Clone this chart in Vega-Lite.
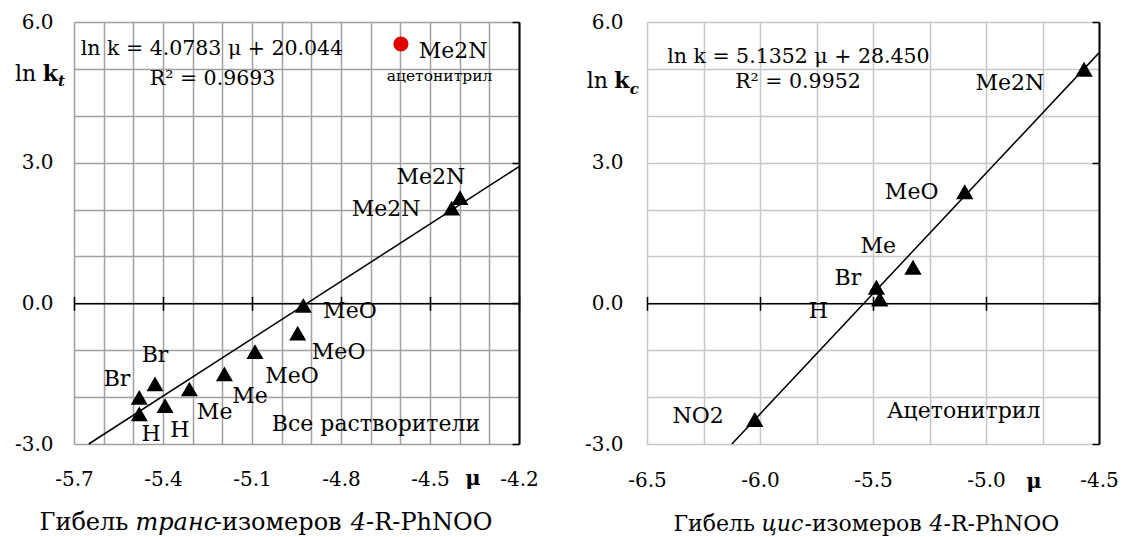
{
  "$schema": "https://vega.github.io/schema/vega-lite/v6.json",
  "background": "white",
  "padding": {"left": 14, "top": 12, "right": 0, "bottom": 0},
  "autosize": {"type": "pad"},
  "bounds": "flush",
  "spacing": 128,
  "config": {"view": {"stroke": null}, "axis": {"labelFont": "DejaVu Serif", "labelColor": "black"}, "text": {"font": "DejaVu Serif"}},
  "datasets": {
    "left_points": [
      {"R": "Me2N", "mu": -4.399, "lnk": 2.255},
      {"R": "Me2N", "mu": -4.427, "lnk": 2.03},
      {"R": "MeO", "mu": -4.927, "lnk": -0.046},
      {"R": "MeO", "mu": -4.946, "lnk": -0.633},
      {"R": "MeO", "mu": -5.09, "lnk": -1.031},
      {"R": "Me", "mu": -5.193, "lnk": -1.507},
      {"R": "Me", "mu": -5.311, "lnk": -1.827},
      {"R": "Br", "mu": -5.427, "lnk": -1.72},
      {"R": "Br", "mu": -5.48, "lnk": -2.004},
      {"R": "H", "mu": -5.393, "lnk": -2.183},
      {"R": "H", "mu": -5.48, "lnk": -2.36}
    ],
    "left_acn": [{"R": "Me2N", "mu": -4.598, "lnk": 5.531}],
    "left_fit": [{"mu": -5.6504, "lnk": -3.0}, {"mu": -4.2, "lnk": 2.9149}],
    "left_labels": [
      {"text": "Me2N", "mu": -4.497, "lnk": 2.694},
      {"text": "Me2N", "mu": -4.648, "lnk": 2.02},
      {"text": "MeO", "mu": -4.77, "lnk": -0.155},
      {"text": "MeO", "mu": -4.808, "lnk": -1.031},
      {"text": "MeO", "mu": -4.965, "lnk": -1.543},
      {"text": "Me", "mu": -5.107, "lnk": -1.976},
      {"text": "Me", "mu": -5.226, "lnk": -2.311},
      {"text": "Br", "mu": -5.427, "lnk": -1.102},
      {"text": "Br", "mu": -5.555, "lnk": -1.614},
      {"text": "H", "mu": -5.44, "lnk": -2.786},
      {"text": "H", "mu": -5.343, "lnk": -2.701},
      {"text": "Me2N", "mu": -4.422, "lnk": 5.382},
      {"text": "Все растворители", "mu": -4.682, "lnk": -2.567}
    ],
    "left_eq": [
      {"text": "ln k = 4.0783 μ + 20.044", "mu": -5.235, "lnk": 5.424},
      {"text": "R² = 0.9693", "mu": -5.233, "lnk": 4.784}
    ],
    "left_small": [{"text": "ацетонитрил", "mu": -4.468, "lnk": 4.848}],
    "left_ttl_ln": [{"text": "ln", "mu": -5.899, "lnk": 4.891}],
    "left_ttl_k": [{"text": "k", "mu": -5.805, "lnk": 4.891}],
    "left_mu": [{"text": "μ", "mu": -4.355, "lnk": -3.746}],
    "left_ttl_sub": [{"text": "t", "mu": -5.754, "lnk": 4.742}],
    "left_cap": [
      {"text": "Гибель", "style": "normal", "mu": -5.8163, "lnk": -4.68},
      {"text": "транс", "style": "italic", "mu": -5.4927, "lnk": -4.68},
      {"text": "-изомеров", "style": "normal", "mu": -5.2288, "lnk": -4.68},
      {"text": "4", "style": "italic", "mu": -4.767, "lnk": -4.68},
      {"text": "-R-PhNOO", "style": "normal", "mu": -4.7154, "lnk": -4.68}
    ],
    "right_points": [
      {"R": "Me2N", "mu": -4.566, "lnk": 4.993},
      {"R": "MeO", "mu": -5.094, "lnk": 2.381},
      {"R": "Me", "mu": -5.323, "lnk": 0.769},
      {"R": "Br", "mu": -5.485, "lnk": 0.342},
      {"R": "H", "mu": -5.47, "lnk": 0.093},
      {"R": "NO2", "mu": -6.023, "lnk": -2.477}
    ],
    "right_fit": [{"mu": -6.1244, "lnk": -3.0}, {"mu": -4.5, "lnk": 5.3416}],
    "right_labels": [
      {"text": "Me2N", "mu": -4.894, "lnk": 4.699},
      {"text": "MeO", "mu": -5.329, "lnk": 2.385},
      {"text": "Me", "mu": -5.477, "lnk": 1.232},
      {"text": "Br", "mu": -5.611, "lnk": 0.54},
      {"text": "H", "mu": -5.742, "lnk": -0.155},
      {"text": "NO2", "mu": -6.274, "lnk": -2.403},
      {"text": "Ацетонитрил", "mu": -5.099, "lnk": -2.288}
    ],
    "right_eq": [
      {"text": "ln k = 5.1352 μ + 28.450", "mu": -5.83, "lnk": 5.254},
      {"text": "R² = 0.9952", "mu": -5.832, "lnk": 4.72}
    ],
    "right_ttl_ln": [{"text": "ln", "mu": -6.767, "lnk": 4.742}],
    "right_ttl_k": [{"text": "k", "mu": -6.645, "lnk": 4.742}],
    "right_mu": [{"text": "μ", "mu": -4.788, "lnk": -3.81}],
    "right_ttl_sub": [{"text": "c", "mu": -6.576, "lnk": 4.578}],
    "right_cap": [
      {"text": "Гибель", "style": "normal", "mu": -6.3827, "lnk": -4.71},
      {"text": "цис", "style": "italic", "mu": -5.9934, "lnk": -4.71},
      {"text": "-изомеров", "style": "normal", "mu": -5.8031, "lnk": -4.71},
      {"text": "4", "style": "italic", "mu": -5.25, "lnk": -4.71},
      {"text": "-R-PhNOO", "style": "normal", "mu": -5.188, "lnk": -4.71}
    ]
  },
  "hconcat": [
    {
      "width": 445,
      "height": 422,
      "resolve": {"axis": {"x": "independent", "y": "independent"}},
      "layer": [
        {
          "data": {"name": "left_fit"},
          "mark": {"type": "line", "color": "black", "strokeWidth": 1.5},
          "encoding": {
            "x": {"field": "mu", "type": "quantitative", "scale": {"domain": [-5.7, -4.2], "nice": false, "zero": false},
              "axis": {"orient": "bottom", "values": [-5.7, -5.6, -5.5, -5.4, -5.3, -5.2, -5.1, -5.0, -4.9, -4.8, -4.7, -4.6, -4.5, -4.4, -4.3, -4.2], "grid": true, "gridColor": "#a0a0a0", "gridWidth": 1.5, "labels": false, "ticks": false, "domain": false, "title": null}},
            "y": {"field": "lnk", "type": "quantitative", "scale": {"domain": [-3, 6], "nice": false, "zero": false},
              "axis": {"orient": "left", "values": [-3, -2, -1, 0, 1, 2, 3, 4, 5, 6], "grid": true, "gridColor": "#a0a0a0", "gridWidth": 1.5, "labels": false, "ticks": false, "domain": false, "title": null}}
          }
        },
        {
          "data": {"name": "left_points"},
          "mark": {"type": "point", "shape": "triangle-up", "filled": true, "color": "black", "size": 290, "opacity": 1},
          "encoding": {
            "x": {"field": "mu", "type": "quantitative", "scale": {"domain": [-5.7, -4.2], "nice": false, "zero": false},
              "axis": {"orient": "bottom", "values": [-5.7, -5.4, -5.1, -4.8, -4.5, -4.2], "grid": false, "ticks": false, "domain": false, "labelPadding": 25, "labelFontSize": 20, "labelFlush": false, "labelOverlap": false, "labelExpr": "replace(format(datum.value, '.1f'), '−', '-')", "title": null}},
            "y": {"field": "lnk", "type": "quantitative", "scale": {"domain": [-3, 6], "nice": false, "zero": false},
              "axis": {"orient": "left", "values": [-3, 0, 3, 6], "grid": false, "ticks": false, "domain": false, "labelPadding": 21, "labelFontSize": 20, "labelFlush": false, "labelOverlap": false, "labelExpr": "replace(format(datum.value, '.1f'), '−', '-')", "title": null}}
          }
        },
        {
          "data": {"name": "left_acn"},
          "mark": {"type": "point", "shape": "circle", "filled": true, "color": "#e00000", "size": 230, "opacity": 1},
          "encoding": {
            "x": {"field": "mu", "type": "quantitative", "scale": {"domain": [-5.7, -4.2], "nice": false, "zero": false},
              "axis": {"orient": "bottom", "offset": -140.67, "values": [-5.7, -5.4, -5.1, -4.8, -4.5, -4.2], "grid": false, "labels": false, "ticks": true, "tickSize": 7, "tickColor": "black", "tickWidth": 1.5, "domain": true, "domainColor": "black", "domainWidth": 1.5, "zindex": 1, "title": null}},
            "y": {"field": "lnk", "type": "quantitative", "scale": {"domain": [-3, 6], "nice": false, "zero": false},
              "axis": {"orient": "left", "offset": -445, "values": [-3, 0, 3, 6], "grid": false, "labels": false, "ticks": true, "tickSize": 7, "tickColor": "black", "tickWidth": 1.5, "domain": true, "domainColor": "black", "domainWidth": 2, "zindex": 1, "title": null}}
          }
        },
        {
          "data": {"name": "left_labels"},
          "mark": {"type": "text", "fontSize": 22, "color": "black"},
          "encoding": {
            "x": {"field": "mu", "type": "quantitative", "scale": {"domain": [-5.7, -4.2], "nice": false, "zero": false},
              "axis": {"orient": "top", "offset": -281.33, "values": [-5.7, -5.4, -5.1, -4.8, -4.5, -4.2], "grid": false, "labels": false, "ticks": true, "tickSize": 7, "tickColor": "black", "tickWidth": 1.5, "domain": false, "zindex": 1, "title": null}},
            "y": {"field": "lnk", "type": "quantitative", "scale": {"domain": [-3, 6], "nice": false, "zero": false}, "axis": null},
            "text": {"field": "text"}
          }
        },
        {
          "data": {"name": "left_eq"},
          "mark": {"type": "text", "fontSize": 20.5, "color": "black"},
          "encoding": {
            "x": {"field": "mu", "type": "quantitative", "axis": null},
            "y": {"field": "lnk", "type": "quantitative", "axis": null},
            "text": {"field": "text"}
          }
        },
        {
          "data": {"name": "left_small"},
          "mark": {"type": "text", "fontSize": 15.5, "color": "black"},
          "encoding": {
            "x": {"field": "mu", "type": "quantitative", "axis": null},
            "y": {"field": "lnk", "type": "quantitative", "axis": null},
            "text": {"field": "text"}
          }
        },
        {
          "data": {"name": "left_ttl_ln"},
          "mark": {"type": "text", "fontSize": 22, "color": "black", "align": "left"},
          "encoding": {
            "x": {"field": "mu", "type": "quantitative", "axis": null},
            "y": {"field": "lnk", "type": "quantitative", "axis": null},
            "text": {"field": "text"}
          }
        },
        {
          "data": {"name": "left_ttl_k"},
          "mark": {"type": "text", "fontSize": 22, "fontWeight": "bold", "color": "black", "align": "left"},
          "encoding": {
            "x": {"field": "mu", "type": "quantitative", "axis": null},
            "y": {"field": "lnk", "type": "quantitative", "axis": null},
            "text": {"field": "text"}
          }
        },
        {
          "data": {"name": "left_mu"},
          "mark": {"type": "text", "fontSize": 21, "fontWeight": "bold", "color": "black"},
          "encoding": {
            "x": {"field": "mu", "type": "quantitative", "axis": null},
            "y": {"field": "lnk", "type": "quantitative", "axis": null},
            "text": {"field": "text"}
          }
        },
        {
          "data": {"name": "left_ttl_sub"},
          "mark": {"type": "text", "fontSize": 15, "fontWeight": "bold", "fontStyle": "italic", "color": "black", "align": "left"},
          "encoding": {
            "x": {"field": "mu", "type": "quantitative", "axis": null},
            "y": {"field": "lnk", "type": "quantitative", "axis": null},
            "text": {"field": "text"}
          }
        },
        {
          "data": {"name": "left_cap"},
          "transform": [{"filter": "datum.style == 'normal'"}],
          "mark": {"type": "text", "fontSize": 24, "color": "black", "align": "left"},
          "encoding": {
            "x": {"field": "mu", "type": "quantitative", "axis": null},
            "y": {"field": "lnk", "type": "quantitative", "axis": null},
            "text": {"field": "text"}
          }
        },
        {
          "data": {"name": "left_cap"},
          "transform": [{"filter": "datum.style == 'italic'"}],
          "mark": {"type": "text", "fontSize": 24, "fontStyle": "italic", "color": "black", "align": "left"},
          "encoding": {
            "x": {"field": "mu", "type": "quantitative", "axis": null},
            "y": {"field": "lnk", "type": "quantitative", "axis": null},
            "text": {"field": "text"}
          }
        }
      ]
    },
    {
      "width": 452,
      "height": 422,
      "resolve": {"axis": {"x": "independent", "y": "independent"}},
      "layer": [
        {
          "data": {"name": "right_fit"},
          "mark": {"type": "line", "color": "black", "strokeWidth": 1.5},
          "encoding": {
            "x": {"field": "mu", "type": "quantitative", "scale": {"domain": [-6.5, -4.5], "nice": false, "zero": false},
              "axis": {"orient": "bottom", "values": [-6.5, -6.25, -6.0, -5.75, -5.5, -5.25, -5.0, -4.75, -4.5], "grid": true, "gridColor": "#c6c6c6", "gridWidth": 1.5, "labels": false, "ticks": false, "domain": false, "title": null}},
            "y": {"field": "lnk", "type": "quantitative", "scale": {"domain": [-3, 6], "nice": false, "zero": false},
              "axis": {"orient": "left", "values": [-3, -2, -1, 0, 1, 2, 3, 4, 5, 6], "grid": true, "gridColor": "#c6c6c6", "gridWidth": 1.5, "labels": false, "ticks": false, "domain": false, "title": null}}
          }
        },
        {
          "data": {"name": "right_points"},
          "mark": {"type": "point", "shape": "triangle-up", "filled": true, "color": "black", "size": 300, "opacity": 1},
          "encoding": {
            "x": {"field": "mu", "type": "quantitative", "scale": {"domain": [-6.5, -4.5], "nice": false, "zero": false},
              "axis": {"orient": "bottom", "values": [-6.5, -6.0, -5.5, -5.0, -4.5], "grid": false, "ticks": false, "domain": false, "labelPadding": 26, "labelFontSize": 20, "labelFlush": false, "labelOverlap": false, "labelExpr": "replace(format(datum.value, '.1f'), '−', '-')", "title": null}},
            "y": {"field": "lnk", "type": "quantitative", "scale": {"domain": [-3, 6], "nice": false, "zero": false},
              "axis": {"orient": "left", "values": [-3, 0, 3, 6], "grid": false, "ticks": false, "domain": false, "labelPadding": 24, "labelFontSize": 20, "labelFlush": false, "labelOverlap": false, "labelExpr": "replace(format(datum.value, '.1f'), '−', '-')", "title": null}}
          }
        },
        {
          "data": {"name": "right_labels"},
          "mark": {"type": "text", "fontSize": 22, "color": "black"},
          "encoding": {
            "x": {"field": "mu", "type": "quantitative", "scale": {"domain": [-6.5, -4.5], "nice": false, "zero": false},
              "axis": {"orient": "bottom", "offset": -140.67, "values": [-6.5, -6.0, -5.5, -5.0, -4.5], "grid": false, "labels": false, "ticks": true, "tickSize": 7, "tickColor": "black", "tickWidth": 1.5, "domain": true, "domainColor": "black", "domainWidth": 1.5, "zindex": 1, "title": null}},
            "y": {"field": "lnk", "type": "quantitative", "scale": {"domain": [-3, 6], "nice": false, "zero": false},
              "axis": {"orient": "left", "offset": -452, "values": [-3, 0, 3, 6], "grid": false, "labels": false, "ticks": true, "tickSize": 7, "tickColor": "black", "tickWidth": 1.5, "domain": true, "domainColor": "black", "domainWidth": 2, "zindex": 1, "title": null}},
            "text": {"field": "text"}
          }
        },
        {
          "data": {"name": "right_eq"},
          "mark": {"type": "text", "fontSize": 20.5, "color": "black"},
          "encoding": {
            "x": {"field": "mu", "type": "quantitative", "scale": {"domain": [-6.5, -4.5], "nice": false, "zero": false},
              "axis": {"orient": "top", "offset": -281.33, "values": [-6.5, -6.0, -5.5, -5.0, -4.5], "grid": false, "labels": false, "ticks": true, "tickSize": 7, "tickColor": "black", "tickWidth": 1.5, "domain": false, "zindex": 1, "title": null}},
            "y": {"field": "lnk", "type": "quantitative", "axis": null},
            "text": {"field": "text"}
          }
        },
        {
          "data": {"name": "right_ttl_ln"},
          "mark": {"type": "text", "fontSize": 22, "color": "black", "align": "left"},
          "encoding": {
            "x": {"field": "mu", "type": "quantitative", "axis": null},
            "y": {"field": "lnk", "type": "quantitative", "axis": null},
            "text": {"field": "text"}
          }
        },
        {
          "data": {"name": "right_ttl_k"},
          "mark": {"type": "text", "fontSize": 22, "fontWeight": "bold", "color": "black", "align": "left"},
          "encoding": {
            "x": {"field": "mu", "type": "quantitative", "axis": null},
            "y": {"field": "lnk", "type": "quantitative", "axis": null},
            "text": {"field": "text"}
          }
        },
        {
          "data": {"name": "right_mu"},
          "mark": {"type": "text", "fontSize": 21, "fontWeight": "bold", "color": "black"},
          "encoding": {
            "x": {"field": "mu", "type": "quantitative", "axis": null},
            "y": {"field": "lnk", "type": "quantitative", "axis": null},
            "text": {"field": "text"}
          }
        },
        {
          "data": {"name": "right_ttl_sub"},
          "mark": {"type": "text", "fontSize": 15, "fontWeight": "bold", "fontStyle": "italic", "color": "black", "align": "left"},
          "encoding": {
            "x": {"field": "mu", "type": "quantitative", "axis": null},
            "y": {"field": "lnk", "type": "quantitative", "axis": null},
            "text": {"field": "text"}
          }
        },
        {
          "data": {"name": "right_cap"},
          "transform": [{"filter": "datum.style == 'normal'"}],
          "mark": {"type": "text", "fontSize": 22, "color": "black", "align": "left"},
          "encoding": {
            "x": {"field": "mu", "type": "quantitative", "axis": null},
            "y": {"field": "lnk", "type": "quantitative", "axis": null},
            "text": {"field": "text"}
          }
        },
        {
          "data": {"name": "right_cap"},
          "transform": [{"filter": "datum.style == 'italic'"}],
          "mark": {"type": "text", "fontSize": 22, "fontStyle": "italic", "color": "black", "align": "left"},
          "encoding": {
            "x": {"field": "mu", "type": "quantitative", "axis": null},
            "y": {"field": "lnk", "type": "quantitative", "axis": null},
            "text": {"field": "text"}
          }
        }
      ]
    }
  ]
}
